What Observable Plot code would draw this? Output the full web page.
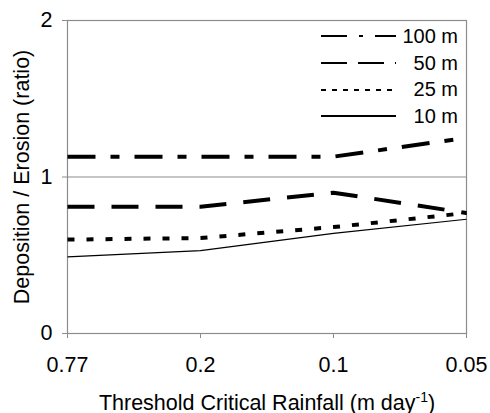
<!DOCTYPE html>
<html>
<head>
<meta charset="utf-8">
<script src="https://cdn.jsdelivr.net/npm/d3@7"></script>
<script src="https://cdn.jsdelivr.net/npm/@observablehq/plot@0.6"></script>
<style>
  body { margin: 0; background: #fff; }
  #wrap { position: relative; width: 490px; height: 413px; font-family: "Liberation Sans", Arial, sans-serif; }
  #legend { position: absolute; left: 321px; top: 23px; width: 137px; }
  #legend .row { display: flex; align-items: center; height: 26.7px; }
  #legend .row span { flex: 1; text-align: right; font-size: 20px; color: #000; }
</style>
</head>
<body>
<div id="wrap"><div id="legend"></div></div>
<script>
const thresholds = ["0.77", "0.2", "0.1", "0.05"];
const seriesNames = ["100 m", "50 m", "25 m", "10 m"];
const ratio100 = [1.13, 1.13, 1.13, 1.25];
const ratio50 = [0.81, 0.81, 0.90, 0.77];
const ratio25 = [0.60, 0.61, 0.68, 0.77];
const ratio10 = [0.49, 0.53, 0.64, 0.73];
const yTicks = [0, 1, 2];

const seriesValues = [ratio100, ratio50, ratio25, ratio10];
const styles = {
  "100 m": {dash: "28,15,9,15", width: 4, legendDash: "26,12,4,12", legendWidth: 2},
  "50 m": {dash: "27,17", width: 4, legendDash: "26,11", legendWidth: 2},
  "25 m": {dash: "7,12", width: 4, legendDash: "5,6", legendWidth: 2},
  "10 m": {dash: null, width: 1.2, legendDash: null, legendWidth: 2}
};

const rows = [];
seriesNames.forEach((s, i) => thresholds.forEach((t, j) => rows.push({series: s, threshold: t, value: seriesValues[i][j]})));

const gray = "#8c8c8c";
const marks = [
  Plot.gridY(yTicks.slice(1, 2), {stroke: gray, strokeOpacity: 1, strokeWidth: 1.2}),
  Plot.frame({stroke: gray, strokeWidth: 1.2}),
  ...seriesNames.map(s => Plot.lineY(rows.filter(d => d.series === s), {
    x: "threshold", y: "value", stroke: "#000",
    strokeWidth: styles[s].width,
    strokeDasharray: styles[s].dash,
    strokeLinecap: "butt", strokeLinejoin: "miter"
  })),
  Plot.axisY(yTicks, {tickSize: 5, tickPadding: 10, fontSize: 21.5, stroke: gray, color: "#000",
    tickFormat: d3.format("d"),
    label: "Deposition / Erosion (ratio)", labelAnchor: "center", labelArrow: "none", labelOffset: 54}),
  Plot.axisX({tickSize: 5, tickPadding: 18, fontSize: 21.5, stroke: gray,
    label: "XLABEL", labelAnchor: "center", labelArrow: "none", labelOffset: 76})
];

const chart = Plot.plot({
  width: 490, height: 413,
  marginLeft: 67, marginRight: 24, marginTop: 20, marginBottom: 80,
  style: {fontFamily: "Liberation Sans, Arial, sans-serif", fontSize: "21.5px", color: "#000", background: "#fff"},
  x: {type: "point", domain: thresholds, padding: 0},
  y: {domain: [0, 2]},
  marks
});
document.getElementById("wrap").prepend(chart);

// x label with superscript
d3.select(chart).selectAll("text").filter(function() { return this.textContent === "XLABEL"; }).each(function() {
  const t = d3.select(this);
  t.text(null);
  t.append("tspan").text("Threshold Critical Rainfall (m day");
  t.append("tspan").attr("baseline-shift", "super").attr("font-size", "14px").text("-1");
  t.append("tspan").text(")");
});

// legend
const legend = d3.select("#legend");
seriesNames.forEach(s => {
  const row = legend.append("div").attr("class", "row");
  const svg = row.append("svg").attr("width", 76).attr("height", 10);
  svg.append("line").attr("x1", 0).attr("x2", 75).attr("y1", 5).attr("y2", 5)
    .attr("stroke", "#000").attr("stroke-width", styles[s].legendWidth)
    .attr("stroke-dasharray", styles[s].legendDash);
  row.append("span").text(s);
});
</script>
</body>
</html>
